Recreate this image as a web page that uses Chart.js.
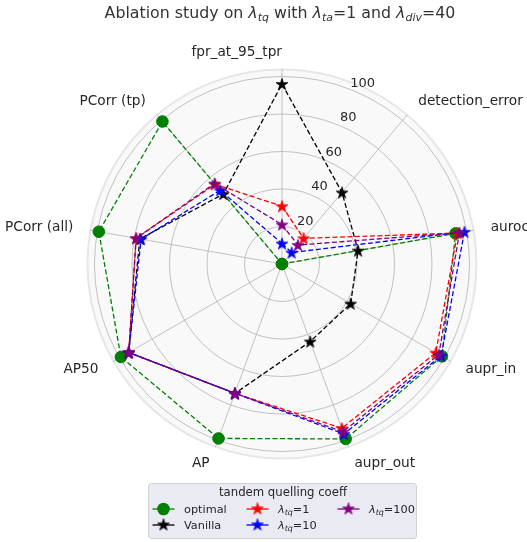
<!DOCTYPE html>
<html>
<head>
<meta charset="utf-8">
<script src="https://cdn.jsdelivr.net/npm/chart.js@4.4.1/dist/chart.umd.min.js"></script>
<style>
  html, body { margin: 0; padding: 0; background: #fff; }
  canvas { display: block; }
</style>
</head>
<body>
<canvas id="chart" width="527" height="542"></canvas>
<script>
// axes of the radar, clockwise from the top
const categories = ['fpr_at_95_tpr', 'detection_error', 'auroc', 'aupr_in', 'aupr_out', 'AP', 'AP50', 'PCorr (all)', 'PCorr (tp)'];
const tickValues = [0, 20, 40, 60, 80, 100];
const rMax = 104;

const optimal = [0, 0, 94, 98.5, 99.3, 99, 99.2, 99.2, 99.2];
const vanilla = [96, 49.8, 41.2, 42.3, 44, 73.4, 94.4, 77, 48.7];
const tq1 = [30.8, 17.9, 95, 94.7, 93.2, 73.4, 94.4, 79, 55.5];
const tq10 = [10.9, 8, 98.8, 98, 96.5, 73.4, 94.4, 76.3, 51.3];
const tq100 = [21, 13.2, 96.1, 96.6, 95.2, 73.4, 94.4, 79, 56];

const FONT = '"DejaVu Sans", "Liberation Sans", sans-serif';
const TEXT = '#262626';

// filled 5-point star (matplotlib '*')
function starImage(color) {
  const R = 6.2, s = 16;
  const c = document.createElement('canvas');
  c.width = c.height = s;
  const g = c.getContext('2d');
  g.beginPath();
  for (let k = 0; k < 10; k++) {
    const r = k % 2 ? R * 0.382 : R;
    const a = -Math.PI / 2 + k * Math.PI / 5;
    g.lineTo(s / 2 + r * Math.cos(a), s / 2 + 0.6 + r * Math.sin(a));
  }
  g.closePath();
  g.fillStyle = color;
  g.strokeStyle = color;
  g.lineWidth = 0.8;
  g.fill();
  g.stroke();
  return c;
}

// text with italic lambda and subscripts: parts = [text, 'n'|'i'|'s']
function drawRich(ctx, parts, x, y, size, align) {
  const fontOf = (st) => st === 'n' ? `${size}px ${FONT}`
    : st === 'i' ? `italic ${size}px ${FONT}` : `italic ${size * 0.7}px ${FONT}`;
  let total = 0;
  const widths = parts.map(([t, st]) => {
    ctx.font = fontOf(st);
    const w = ctx.measureText(t).width;
    total += w;
    return w;
  });
  let cx = align === 'center' ? x - total / 2 : align === 'right' ? x - total : x;
  ctx.textAlign = 'left';
  ctx.textBaseline = 'alphabetic';
  parts.forEach(([t, st], i) => {
    ctx.font = fontOf(st);
    ctx.fillText(t, cx, st === 's' ? y + size * 0.22 : y);
    cx += widths[i];
  });
}

const colors = ['#008000', '#000000', '#ff0000', '#0000ff', '#800080'];
const stars = colors.map(c => starImage(c));

function makeSet(label, data, i, order) {
  const isCircle = i === 0;
  return {
    label,
    data,
    order,
    fill: false,
    borderColor: colors[i],
    backgroundColor: colors[i],
    borderWidth: 1.3,
    borderDash: [5, 2.5],
    pointStyle: isCircle ? 'circle' : stars[i],
    pointRadius: isCircle ? 5.8 : 6,
    pointBorderWidth: 1,
    pointBackgroundColor: colors[i],
    pointBorderColor: colors[i]
  };
}

const legendItems = [
  { parts: [['optimal', 'n']], col: 0, row: 0 },
  { parts: [['Vanilla', 'n']], col: 0, row: 1 },
  { parts: [['λ', 'i'], ['tq', 's'], ['=1', 'n']], col: 1, row: 0 },
  { parts: [['λ', 'i'], ['tq', 's'], ['=10', 'n']], col: 1, row: 1 },
  { parts: [['λ', 'i'], ['tq', 's'], ['=100', 'n']], col: 2, row: 0 }
];

const decorPlugin = {
  id: 'decor',
  beforeDraw(chart) {
    const { ctx } = chart;
    const r = chart.scales.r;
    ctx.save();
    ctx.beginPath();
    ctx.arc(r.xCenter, r.yCenter, r.drawingArea - 0.5, 0, Math.PI * 2);
    ctx.fillStyle = '#f9f9f9';
    ctx.fill();
    ctx.lineWidth = 2;
    ctx.strokeStyle = '#e6e6e6';
    ctx.stroke();
    ctx.restore();
  },
  beforeDatasetsDraw(chart) {
    const { ctx } = chart;
    const r = chart.scales.r;
    ctx.save();
    ctx.fillStyle = TEXT;
    // radial tick labels along 22.5 degrees
    ctx.font = `13px ${FONT}`;
    ctx.textAlign = 'center';
    ctx.textBaseline = 'middle';
    const a = 22.5 * Math.PI / 180;
    tickValues.forEach(v => {
      if (v === 0) return;
      const d = r.getDistanceFromCenterForValue(v);
      ctx.fillText(String(v), r.xCenter + d * Math.sin(a) + 8.8, r.yCenter - d * Math.cos(a) - 7.6);
    });
    // category labels
    ctx.font = `13.7px ${FONT}`;
    categories.forEach((lab, i) => {
      const p = r.getPointPositionForValue(i, 113);
      ctx.textAlign = (i >= 1 && i <= 4) ? 'left' : 'right';
      ctx.fillText(lab, p.x, p.y);
    });
    ctx.restore();
  },
  afterDraw(chart) {
    const { ctx } = chart;
    ctx.save();
    ctx.fillStyle = '#333333';
    drawRich(ctx, [['Ablation study on ', 'n'], ['λ', 'i'], ['tq', 's'], [' with ', 'n'], ['λ', 'i'], ['ta', 's'],
      ['=1 and ', 'n'], ['λ', 'i'], ['div', 's'], ['=40', 'n']], 280, 18, 15.8, 'center');

    // legend box
    const bx = 148.5, by = 483.5, bw = 268, bh = 55;
    ctx.beginPath();
    ctx.roundRect(bx, by, bw, bh, 3);
    ctx.fillStyle = '#eaeaf2';
    ctx.fill();
    ctx.strokeStyle = '#cfcfd6';
    ctx.lineWidth = 1;
    ctx.stroke();
    ctx.fillStyle = TEXT;
    drawRich(ctx, [['tandem quelling coeff', 'n']], 283, 496, 11.7, 'center');

    const colX = [163.5, 257.5, 348.5];
    const rowY = [509, 525];
    legendItems.forEach((it, i) => {
      const mx = colX[it.col], my = rowY[it.row];
      ctx.strokeStyle = colors[i];
      ctx.lineWidth = 1.3;
      ctx.beginPath();
      ctx.moveTo(mx - 11, my);
      ctx.lineTo(mx + 11, my);
      ctx.stroke();
      if (i === 0) {
        ctx.beginPath();
        ctx.arc(mx, my, 6.3, 0, Math.PI * 2);
        ctx.fillStyle = colors[i];
        ctx.fill();
      } else {
        ctx.drawImage(stars[i], mx - 8, my - 8.6);
      }
      ctx.fillStyle = TEXT;
      drawRich(ctx, it.parts, mx + 20.5, my + 4, 11.3, 'left');
    });
    ctx.restore();
  }
};

new Chart(document.getElementById('chart'), {
  type: 'radar',
  data: {
    labels: categories,
    datasets: [
      makeSet('optimal', optimal, 0, 5),
      makeSet('Vanilla', vanilla, 1, 4),
      makeSet('λtq=1', tq1, 2, 3),
      makeSet('λtq=10', tq10, 3, 2),
      makeSet('λtq=100', tq100, 4, 1)
    ]
  },
  options: {
    responsive: false,
    animation: false,
    devicePixelRatio: 1,
    layout: { padding: { left: 87, right: 50, top: 69, bottom: 83 } },
    elements: { line: { tension: 0 } },
    plugins: {
      legend: { display: false },
      tooltip: { enabled: false },
      title: { display: false }
    },
    scales: {
      r: {
        min: 0,
        max: rMax,
        afterBuildTicks: (scale) => { scale.ticks = tickValues.map(v => ({ value: v })); },
        ticks: { display: false },
        grid: { circular: true, color: '#b3b3b3', lineWidth: 0.8 },
        angleLines: { color: '#b3b3b3', lineWidth: 0.8 },
        pointLabels: { display: false }
      }
    }
  },
  plugins: [decorPlugin]
});
</script>
</body>
</html>
